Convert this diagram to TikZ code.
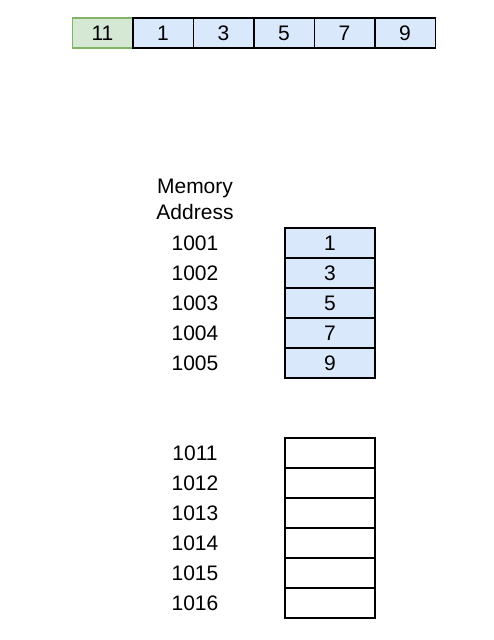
\documentclass[tikz,border=0pt]{standalone}
\usepackage{fontspec}
\setmainfont{Liberation Sans}
\usetikzlibrary{positioning}
\definecolor{cellblue}{HTML}{DAE8FC}
\definecolor{cellgreen}{HTML}{D5E8D4}
\definecolor{edgegreen}{HTML}{82B366}

\begin{document}
\begin{tikzpicture}[x=1pt, y=-1pt, node distance=0pt]
    \tikzstyle{every node}=[font=\fontsize{21}{26}\selectfont]
    \tikzstyle{cell}=[draw=black, line width=1.5pt, inner sep=0pt, outer sep=0pt, minimum height=30pt]
    \tikzstyle{slot}=[cell, minimum width=60.5pt, fill=cellblue]
    \tikzstyle{word}=[cell, minimum width=90pt]

    \useasboundingbox (0,0) rectangle (494,640);

    % array in one row
    \node[slot, fill=cellgreen, draw=edgegreen] (c0) at (102.5,33) {11};
    \foreach \v [count=\i, remember=\i as \j (initially 0)] in {1,3,5,7,9}
        \node[slot, right=of c\j] (c\i) {\v};

    % memory column
    \node[align=center] (head) at (195,199) {Memory\\Address};

    \node[word, fill=cellblue] (m1) at (330,243) {1};
    \node at (195,243) (a1) {1001};
    \foreach \v [count=\i from 2, remember=\i as \j (initially 1)] in {3,5,7,9} {
        \node[word, fill=cellblue, below=of m\j] (m\i) {\v};
        \node at (195,213+30*\i) (a\i) {100\i};
    }

    % free slots
    \node[word] (f1) at (330,453) {};
    \node at (195,453) (b1) {1011};
    \foreach \i [remember=\i as \j (initially 1)] in {2,...,6} {
        \node[word, below=of f\j] (f\i) {};
        \node at (195,423+30*\i) (b\i) {101\i};
    }
\end{tikzpicture}
\end{document}
